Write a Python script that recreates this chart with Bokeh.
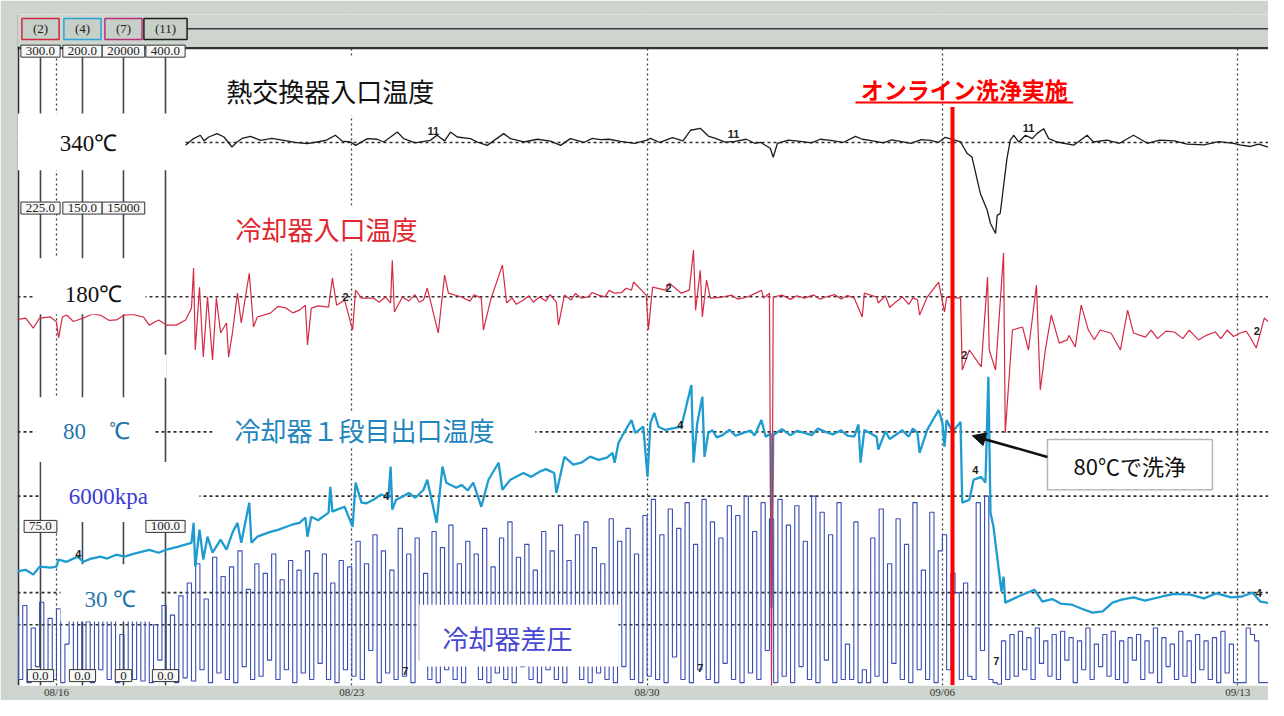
from bokeh.plotting import figure
from bokeh.models import Range1d, Span, Label, BoxAnnotation, Arrow, NormalHead, FixedTicker
from bokeh.core.properties import value
from bokeh.embed import file_html
from bokeh.resources import INLINE

# ---------------- data ----------------
# x = elapsed days from 08/16 00:00
date_ticks = [0, 7, 14, 21, 28]
date_labels = ["08/16", "08/23", "08/30", "09/06", "09/13"]

# recorder channels: tag, full scale, range name
ch_tags = ["(2)", "(4)", "(7)", "(11)"]
ch_full = [300, 200, 20000, 400]
ch_range = ["tc2", "tc4", "dp7", "tc11"]
ch_color = ["#d0283c", "#2aa4d8", "#b8307c", "#1e1e1e"]

scale_top = ["300.0", "200.0", "20000", "400.0"]
scale_75 = ["225.0", "150.0", "15000"]
scale_25 = ["75.0", "100.0"]
scale_0 = ["0.0", "0.0", "0", "0.0"]

# (11) heat exchanger inlet temperature [degC]  (any order)
hx_in_day = [3.06, 3.25, 3.41, 3.61, 3.81, 3.97, 4.16, 4.28, 4.60, 4.84,
             5.39, 5.94, 6.18, 6.61, 6.77, 6.97, 7.09, 7.37, 7.76, 8.08,
             8.23, 8.86, 9.02, 9.34, 9.50, 9.81, 10.21, 10.60, 10.76, 11.08,
             11.71, 11.95, 12.18, 12.89, 13.37, 13.70, 14.08, 15.03, 15.26, 15.62,
             16.09, 16.69, 16.92, 16.99, 17.09, 17.63, 18.35, 18.94, 19.29, 20.00,
             20.72, 21.07, 21.31, 21.43, 21.59, 21.70, 21.90, 22.06, 22.14, 22.26,
             22.30, 22.37, 22.53, 22.61, 22.69, 22.81, 22.97, 23.13, 23.24, 23.40,
             23.52, 23.72, 24.11, 24.43, 24.58, 25.53, 25.86, 26.50, 27.20, 27.90,
             28.30, 28.70, 29.01,
             5.10, 5.65, 11.40, 12.50, 14.00, 14.30, 14.60, 14.85, 15.45, 15.85,
             16.35, 16.55, 17.35, 17.90, 18.10, 18.65, 19.10, 19.60, 19.80, 20.25,
             20.50, 20.90, 24.90, 25.20, 26.15, 26.80, 27.55, 28.05, 28.50, 13.10,
             3.50, 4.40, 6.40, 7.60, 8.50, 9.20, 10.00, 12.70]
hx_in_temp = [338.2, 342.4, 344.5, 343.4, 345.5, 343.4, 337.2, 340.3, 343.8, 341.3,
              341.3, 339.3, 340.3, 344.5, 340.9, 340.3, 338.2, 342.4, 340.3, 346.5,
              342.4, 341.3, 344.5, 346.5, 343.4, 342.4, 338.2, 345.5, 342.4, 340.3,
              340.9, 338.2, 342.4, 341.8, 340.7, 339.5, 342.6, 347.6, 348.8, 342.6,
              340.7, 340.1, 336.4, 330.8, 339.5, 340.7, 341.3, 343.8, 341.3, 340.7,
              341.3, 343.2, 341.3, 340.3, 333.1, 331.0, 308.3, 298.0, 289.6, 283.4,
              294.8, 295.8, 330.0, 341.4, 344.5, 340.3, 344.5, 342.4, 345.5, 348.6,
              342.4, 340.3, 338.3, 344.5, 340.3, 344.5, 339.5, 341.0, 338.5, 339.5,
              337.5, 337.2, 339.7,
              342.5, 340.0, 342.0, 340.0, 341.5, 340.0, 343.0, 341.0, 344.0, 340.2,
              342.0, 339.5, 341.5, 339.8, 342.0, 340.0, 342.0, 339.8, 341.6, 339.5,
              341.8, 340.0, 341.5, 339.5, 341.5, 339.0, 340.5, 338.5, 339.0, 342.0,
              341.0, 342.5, 341.5, 342.0, 339.8, 341.0, 340.0, 342.5]

# (2) cooler inlet temperature [degC]
cool_in_day = [-0.98, -0.73, -0.55, -0.40, -0.14, 0.00, 0.05, 0.14, 0.24, 0.64,
               1.04, 1.42, 1.61, 2.06, 2.20, 2.42, 2.61, 2.84, 3.06, 3.20,
               3.25, 3.29, 3.39, 3.48, 3.58, 3.70, 3.79, 3.89, 4.03, 4.08,
               4.17, 4.29, 4.38, 4.57, 4.67, 4.76, 5.07, 5.45, 5.76, 5.90,
               5.95, 6.04, 6.45, 6.54, 6.64, 6.83, 7.02, 7.09, 7.23, 7.51,
               7.92, 7.96, 8.01, 8.20, 8.70, 8.79, 9.05, 9.20, 9.29, 9.60,
               10.07, 10.12, 10.29, 10.57, 10.67, 11.07, 11.45, 11.85, 11.90, 12.04,
               12.44, 12.85, 13.23, 13.63, 13.68, 13.91, 13.98, 14.03, 14.13, 14.43,
               14.53, 14.81, 15.00, 15.10, 15.15, 15.26, 15.31, 15.41, 15.50, 15.79,
               16.38, 16.71, 16.76, 16.90, 16.95, 16.99, 17.73, 18.23, 18.91, 19.10,
               19.15, 19.44, 19.48, 19.89, 20.41, 20.46, 20.64, 20.91, 21.05, 21.10,
               21.43, 21.47, 21.64, 21.92, 22.07, 22.11, 22.26, 22.45, 22.49, 22.66,
               22.90, 23.04, 23.23, 23.32, 23.44, 23.58, 23.77, 23.96, 24.15, 24.29,
               24.46, 24.74, 25.22, 25.39, 25.53, 25.81, 26.50, 27.07, 27.47, 28.06,
               28.44, 28.63, 28.94,
               17.20, 17.40, 17.55, 17.95, 18.10, 18.45, 18.60, 18.75, 19.65, 19.75,
               20.05, 20.20, 20.30, 11.60, 11.70, 12.20, 12.30, 12.60, 12.70, 13.00,
               13.10, 13.40, 13.50, 16.00, 16.15, 16.55, 10.80, 10.90, 11.20, 11.30,
               9.80, 9.90, 8.35, 8.50, 8.60, 7.65, 7.80, 25.95, 26.10, 26.30,
               26.70, 26.85, 27.25, 27.60, 27.75, 27.90, 28.20, 28.30, 5.25, 5.60,
               6.20, 0.40, 0.85, 1.25, 1.80, 24.00, 24.60, 25.00]
cool_in_temp = [172.2, 173.1, 168.4, 173.1, 173.6, 171.2, 163.8, 173.6, 174.5, 173.1,
                174.5, 172.2, 174.5, 173.6, 169.8, 172.2, 169.8, 169.8, 172.2, 177.7,
                196.4, 158.2, 187.5, 154.9, 182.9, 153.5, 182.4, 166.1, 170.8, 154.9,
                166.1, 184.7, 170.8, 194.0, 168.9, 173.6, 175.4, 177.7, 176.8, 179.1,
                160.5, 177.7, 178.2, 191.7, 179.1, 181.5, 167.5, 186.1, 182.4, 182.4,
                180.1, 200.1, 175.9, 182.9, 181.5, 187.1, 166.1, 193.1, 184.7, 182.9,
                182.4, 167.5, 181.5, 197.8, 180.1, 181.5, 182.9, 180.5, 169.8, 183.8,
                182.4, 183.8, 184.7, 186.1, 189.9, 185.2, 183.8, 167.5, 187.5, 186.1,
                189.4, 184.7, 186.1, 204.8, 176.8, 195.4, 173.6, 190.8, 182.4, 182.9,
                182.9, 186.1, 182.4, 184.7, 1.2, 182.9, 182.4, 182.9, 182.4, 173.6,
                184.7, 182.9, 180.1, 180.5, 181.5, 174.5, 182.9, 189.9, 175.9, 182.9,
                182.4, 148.8, 158.2, 150.3, 192.2, 158.2, 148.8, 203.4, 119.5, 167.5,
                168.9, 158.2, 188.5, 139.6, 158.2, 174.5, 161.4, 162.9, 159.6, 179.1,
                167.5, 167.5, 158.2, 176.8, 166.1, 164.2, 166.6, 162.9, 166.6, 166.1,
                159.1, 173.1, 167.5,
                183.8, 181.8, 183.5, 183.9, 181.9, 184.0, 182.0, 183.6, 183.5, 178.0,
                183.0, 179.5, 182.5, 181.0, 184.0, 181.5, 184.5, 183.0, 185.0, 183.0,
                186.0, 185.0, 187.0, 183.8, 181.9, 184.5, 182.5, 179.5, 183.5, 180.5,
                181.0, 184.0, 181.0, 184.0, 180.5, 180.5, 183.0, 167.5, 163.5, 167.0,
                163.5, 167.5, 165.0, 163.5, 167.5, 164.5, 167.0, 164.0, 178.5, 175.5,
                178.8, 171.5, 175.0, 172.0, 174.8, 165.0, 163.0, 166.0]

# (4) cooler 1st stage outlet temperature [degC]
cool1_out_day = [-0.98, -0.73, -0.55, -0.40, -0.14, 0.00, 0.05, 0.24, 0.50, 0.64,
                 1.04, 1.42, 1.61, 2.01, 2.42, 2.61, 2.89, 3.20, 3.25, 3.29,
                 3.39, 3.48, 3.58, 3.70, 3.89, 4.03, 4.17, 4.29, 4.38, 4.57,
                 4.62, 4.76, 5.07, 5.45, 5.76, 5.90, 5.95, 6.04, 6.45, 6.49,
                 6.54, 6.83, 7.02, 7.09, 7.23, 7.51, 7.87, 7.92, 7.96, 8.20,
                 8.51, 8.70, 8.79, 9.01, 9.15, 9.24, 9.48, 9.88, 10.07, 10.24,
                 10.48, 10.57, 10.76, 11.07, 11.45, 11.80, 11.85, 12.04, 12.44, 12.85,
                 13.18, 13.23, 13.32, 13.42, 13.63, 13.72, 13.91, 14.01, 14.08, 14.17,
                 14.27, 14.43, 14.81, 15.05, 15.10, 15.19, 15.31, 15.36, 15.45, 15.79,
                 16.28, 16.71, 16.81, 16.93, 16.95, 16.99, 17.73, 18.23, 18.91, 19.01,
                 19.06, 19.15, 19.44, 19.48, 19.89, 20.41, 20.46, 20.64, 20.91, 21.00,
                 21.05, 21.10, 21.24, 21.43, 21.47, 21.64, 21.74, 21.92, 22.02, 22.09,
                 22.14, 22.21, 22.40, 22.45, 22.49, 22.80, 23.18, 23.37, 24.06, 24.56,
                 25.03, 25.53, 26.21, 26.88, 27.85, 28.35, 28.54, 28.94,
                 17.20, 17.40, 17.55, 17.90, 18.05, 18.40, 18.60, 18.75, 19.65, 19.75,
                 20.05, 20.20, 20.30, 15.55, 15.65, 15.95, 16.10, 16.45, 16.55, 23.60,
                 23.80, 24.30, 24.80, 25.25, 25.80, 26.50, 27.20, 27.50, 28.10, 0.80,
                 1.20, 1.80, 2.20, 5.25, 5.60, 6.20, 6.65, 7.35, 7.70, 8.05,
                 8.35, 9.60, 9.75, 11.25, 11.60, 12.25, 12.65, 13.05]
cool1_out_temp = [36.5, 37.1, 35.6, 38.1, 37.8, 38.1, 40.3, 39.6, 41.2, 39.6,
                  41.2, 41.8, 41.2, 42.7, 42.4, 43.4, 44.3, 45.5, 51.7, 38.1,
                  49.6, 40.3, 47.4, 42.4, 46.5, 43.4, 48.6, 51.7, 45.5, 58.0,
                  45.5, 47.4, 48.9, 50.5, 51.7, 53.3, 47.4, 53.6, 54.9, 62.9,
                  55.2, 56.7, 50.5, 64.2, 58.0, 58.9, 59.5, 69.2, 55.8, 59.8,
                  59.5, 62.0, 65.1, 51.7, 69.2, 64.2, 62.6, 64.2, 56.7, 65.1,
                  70.4, 62.0, 65.1, 67.2, 67.6, 67.2, 61.0, 72.2, 70.4, 71.3,
                  73.5, 70.4, 76.5, 79.0, 83.7, 79.7, 81.6, 66.0, 82.8, 85.9,
                  81.6, 80.6, 81.6, 94.6, 70.4, 82.8, 90.9, 72.2, 79.7, 79.0,
                  79.7, 83.7, 78.5, 79.5, 25.3, 79.0, 79.7, 80.0, 78.5, 82.3,
                  70.4, 80.6, 78.5, 74.5, 79.0, 79.7, 73.5, 80.6, 86.8, 82.8,
                  75.4, 83.7, 80.0, 83.1, 58.0, 58.9, 65.1, 66.0, 64.2, 97.1,
                  54.9, 50.5, 30.3, 35.0, 26.9, 28.8, 30.9, 27.2, 26.3, 23.8,
                  26.9, 28.5, 28.8, 29.4, 28.5, 30.0, 27.2, 26.3,
                  80.8, 78.9, 80.3, 79.0, 81.0, 79.2, 80.5, 78.8, 80.2, 77.8,
                  80.5, 78.5, 81.0, 80.5, 78.3, 80.6, 78.8, 80.4, 78.9, 28.0,
                  26.6, 25.0, 24.2, 27.8, 27.5, 29.6, 28.2, 29.8, 28.8, 40.5,
                  40.6, 42.0, 43.3, 49.5, 51.2, 52.5, 55.8, 57.8, 60.5, 58.9,
                  61.0, 63.5, 61.8, 66.0, 68.4, 69.8, 72.3, 72.0]

# (7) cooler differential pressure [kPa], one sample every 0.1 day from day -0.95
dp_start_day = -0.95
dp_step_day = 0.1
cool_dp_kpa = [
    2300, 300, 2600, 200, 1900, 700, 2700, 250, 2200, 300,
    2500, 200, 1400, 2400, 300, 2800, 250, 2100, 200, 2600,
    600, 2400, 300, 2900, 200, 1700, 400, 2500, 300, 2200,
    250, 2700, 200, 2000, 900, 2600, 300, 2300, 200, 2900,
    350, 3300, 250, 3900, 600, 2800, 200, 4100, 500, 3500,
    300, 3800, 200, 4300, 700, 3100, 300, 3900, 400, 3600,
    900, 4200, 300, 3400, 600, 4000, 200, 3700, 500, 4300,
    300, 3600, 800, 4200, 300, 3300, 200, 4000, 600, 3800,
    400, 4600, 300, 3900, 1200, 4800, 200, 4300, 500, 3700,
    300, 5000, 400, 4200, 200, 4700, 900, 3600, 300, 4900,
    200, 4400, 600, 5100, 300, 3900, 200, 4600, 1100, 4200,
    300, 5000, 200, 3800, 500, 4700, 300, 5200, 200, 4100,
    700, 4500, 300, 3700, 200, 4900, 600, 4300, 300, 5100,
    200, 4000, 900, 4800, 300, 5200, 200, 4400, 500, 3900,
    300, 5300, 200, 4600, 700, 5000, 300, 4200, 200, 5400,
    400, 5900, 300, 4800, 200, 5600, 1000, 5000, 300, 5800,
    200, 4500, 600, 5900, 300, 5200, 200, 4700, 800, 5700,
    300, 5400, 200, 6000, 500, 4900, 300, 5800, 1200, 5300,
    200, 5900, 400, 5100, 200, 5700, 700, 4600, 300, 6000,
    200, 5500, 900, 4800, 200, 5800, 300, 1400, 300, 5200,
    200, 600, 200, 4700, 400, 5600, 200, 3900, 800, 5300,
    300, 4500, 200, 5800, 600, 3700, 300, 5500, 200, 4300,
    4800, 600, 3600, 3000, 300, 3300, 400, 300, 5800, 1200,
    6000, 300, 200, 150, 1500, 300, 1700, 400, 1800, 600,
    1600, 300, 1900, 800, 1500, 400, 1700, 300, 1800, 900,
    1600, 200, 1500, 600, 1900, 300, 1400, 700, 1700, 400,
    1800, 300, 1500, 200, 1600, 900, 1700, 300, 1500, 500,
    1900, 200, 1600, 700, 1400, 300, 1800, 400, 1500, 200,
    1700, 600, 1500, 300, 1600, 200, 1800, 500, 1400, 200,
    200, 200, 1900, 1700, 1500, 200, 200, 200, 200, 200,
]
dp_day = [dp_start_day + i * dp_step_day for i in range(len(cool_dp_kpa))]

# online washing
wash_day = 21.24

# channel id marks written by the recorder (day, value)
tag11_day, tag11_val = [8.93, 16.05, 23.04], [347, 345, 349]
tag2_day, tag2_val = [6.85, 14.51, 21.52, 28.45], [183, 187, 156, 167]
tag4_day, tag4_val = [0.52, 7.82, 14.79, 21.78, 28.50], [42, 60, 82, 68, 30]
tag7_day, tag7_val = [8.27, 15.26, 22.28], [550, 670, 860]


def by_time(days, vals):
    pairs = sorted(zip(days, vals))
    return [a for a, _ in pairs], [b for _, b in pairs]


# ---------------- figure ----------------
X0, X1 = -0.924, 28.73
Y0, Y1 = 0.56, 104.9
p = figure(width=1268, height=700, output_backend="svg", toolbar_location=None,
           x_range=Range1d(X0, X1), y_range=Range1d(Y0, Y1),
           y_axis_location=None,
           min_border_left=17, min_border_right=0, min_border_top=14, min_border_bottom=14,
           background_fill_color="#ffffff", border_fill_color="#cdd5ce",
           outline_line_color=None)
p.extra_y_ranges = {r: Range1d(Y0 / 100 * f, Y1 / 100 * f) for r, f in zip(ch_range, ch_full)}

ax = p.xaxis[0]
ax.ticker = FixedTicker(ticks=date_ticks)
ax.major_label_overrides = {t: l for t, l in zip(date_ticks, date_labels)}
ax.axis_line_color = None
ax.major_tick_line_color = None
ax.minor_tick_line_color = None
ax.major_tick_out = 0
ax.major_label_standoff = 0
ax.major_label_text_font = "Liberation Sans Narrow"
ax.major_label_text_font_size = "11px"
ax.major_label_text_color = "#333333"

p.xgrid.ticker = FixedTicker(ticks=date_ticks)
p.xgrid.grid_line_color = "#3a3a3a"
p.xgrid.grid_line_dash = "2 3"
p.xgrid.grid_line_width = 1.3
p.ygrid.grid_line_color = None

# reference levels (dotted)
ref_levels = [("tc11", 340), ("tc2", 183), ("tc4", 80), ("dp7", 6000), ("tc4", 30), ("dp7", 2000)]
for rn, lv in ref_levels:
    p.add_layout(Span(location=lv, dimension="width", y_range_name=rn, line_color="#2e2e2e",
                      line_dash="3 3", line_width=1.6, level="underlay"))

# recorder scale columns and frame edges
col_x = [-0.379, 0.616, 1.588, 2.584]
for d in col_x:
    p.add_layout(Span(location=d, dimension="height", line_color="#3d4850", line_width=1.6,
                      level="underlay"))
p.add_layout(Span(location=99.7, dimension="width", line_color="#2f3438", line_width=2.5, level="underlay"))
p.add_layout(Span(location=-0.905, dimension="height", line_color="#2f3438", line_width=2, level="underlay"))

# series
p.step(dp_day, cool_dp_kpa, y_range_name="dp7", line_color="#3a4db0", line_width=1.1, mode="center")
d, v = by_time(cool1_out_day, cool1_out_temp)
p.line(d, v, y_range_name="tc4", line_color="#1e9cd0", line_width=2.3)
d, v = by_time(cool_in_day, cool_in_temp)
p.line(d, v, y_range_name="tc2", line_color="#d52a44", line_width=1.2)
d, v = by_time(hx_in_day, hx_in_temp)
p.line(d, v, y_range_name="tc11", line_color="#1c1c1c", line_width=1.3)

tag_font = value("Liberation Sans")
for dd, vv, rn, tx in [(tag11_day, tag11_val, "tc11", "11"), (tag2_day, tag2_val, "tc2", "2"),
                       (tag4_day, tag4_val, "tc4", "4"), (tag7_day, tag7_val, "dp7", "7")]:
    p.text(dd, vv, text=[tx] * len(dd), y_range_name=rn, text_font=tag_font, text_font_size="11px",
           text_font_style="bold", text_color="#222222", text_align="center", text_baseline="middle")

# washing line
p.segment(x0=[wash_day], y0=[90.5], x1=[wash_day], y1=[0.6], line_color="#ff0000", line_width=4)

# header band of the recorder (above the chart area)
p.add_layout(BoxAnnotation(bottom=99.94, top=Y1 + 1, fill_color="#cdd5ce", fill_alpha=1, line_color=None))
p.add_layout(BoxAnnotation(left=3.06, right=X1 + 1, bottom=102.55, top=102.8, fill_color="#3a3f44",
                           fill_alpha=1, line_color=None))

# white annotation boxes (left, right, bottom, top)
white_boxes = [(3.06, 13.13, 89.2, 98.5), (-0.92, 3.01, 80.7, 89.5), (3.77, 9.10, 68.3, 75.2),
               (-0.545, 2.11, 58.3, 67.0), (2.06, 2.61, 48.4, 52.0), (-0.50, 2.30, 35.3, 45.4),
               (3.70, 11.35, 37.7, 43.0), (-0.356, 3.39, 26.0, 35.3), (0.095, 2.465, 10.5, 19.4),
               (8.60, 13.32, 3.5, 13.1)]
for l, r, b, t in white_boxes:
    p.add_layout(BoxAnnotation(left=l, right=r, bottom=b, top=t, fill_color="white", fill_alpha=1,
                               line_color=None))

p.add_layout(BoxAnnotation(left=23.49, right=27.40, bottom=31.0, top=38.8, fill_color="white",
                           fill_alpha=1, line_color="#111111", line_width=1.5))

jp = "Noto Sans CJK JP"
sf = "Liberation Serif"
texts = [
    ("熱交換器入口温度", 6.49, 93.1, jp, "26px", "#111111", "normal"),
    ("冷却器入口温度", 6.40, 71.7, jp, "26px", "#e0262e", "normal"),
    ("冷却器１段目出口温度", 7.30, 40.3, jp, "26px", "#1f86bd", "normal"),
    ("冷却器差圧", 10.69, 8.0, jp, "26px", "#4848d0", "normal"),
    ("340℃", 0.76, 84.9, sf, "23px", "#111111", "normal"),
    ("180℃", 0.88, 61.3, sf, "23px", "#111111", "normal"),
    ("80　℃", 0.95, 40.0, sf, "23px", "#1f76ad", "normal"),
    ("6000kpa", 1.23, 29.9, sf, "23px", "#3b3bd0", "normal"),
    ("30 ℃", 1.28, 13.9, sf, "23px", "#1f76ad", "normal"),
    ("80℃で洗浄", 25.44, 34.9, jp, "22px", "#111111", "normal"),
    ("オンライン洗浄実施", 21.52, 93.3, jp, "23px", "#ff0000", "bold"),
]
for t, x, y, f, s, c, st in texts:
    p.add_layout(Label(x=x, y=y, text=t, text_font=f, text_font_size=s, text_color=c,
                       text_font_style=st, text_align="center", text_baseline="middle"))

p.segment(x0=[18.94], y0=[91.2], x1=[24.10], y1=[91.2], line_color="#ff0000", line_width=2)

p.add_layout(Arrow(end=NormalHead(size=13, fill_color="#111111", line_color="#111111"),
                   x_start=23.49, y_start=36.1, x_end=21.71, y_end=39.4,
                   line_color="#111111", line_width=2.5))


# recorder scale boxes (padding order: left, right, top, bottom)
def scale_box(x, y, t):
    p.add_layout(Label(x=x, y=y, text=t, text_font="Liberation Sans Narrow", text_font_size="13px",
                       text_color="#222222", text_align="center", text_baseline="middle",
                       background_fill_color="#f6f7f6", border_line_color="#333333",
                       border_line_width=1, padding=(5, 5, 2, 2)))


for x, t in zip(col_x, scale_top):
    scale_box(x, 99.2, t)
for x, t in zip(col_x[:3], scale_75):
    scale_box(x, 74.8, t)
for x, t in zip([col_x[0], col_x[3]], scale_25):
    scale_box(x, 25.3, t)
for x, t in zip(col_x, scale_0):
    scale_box(x, 2.1, t)
for x, t, c in zip(col_x, ch_tags, ch_color):
    p.add_layout(Label(x=x, y=102.65, text=t, text_font="Liberation Sans Narrow", text_font_size="13px",
                       text_color="#222222", text_align="center", text_baseline="middle",
                       background_fill_color="#c6cfc8", border_line_color=c,
                       border_line_width=1.5, padding=(11, 11, 3, 3)))

open("out.html", "w").write(file_html(p, INLINE))
